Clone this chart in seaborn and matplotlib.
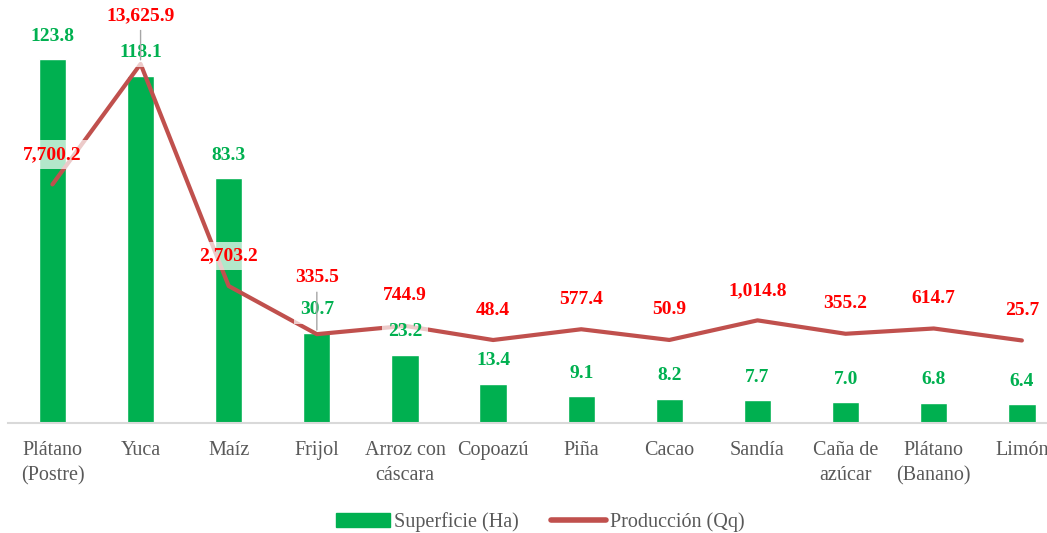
import numpy as np
import pandas as pd
import matplotlib.pyplot as plt
from matplotlib.patches import Patch
from matplotlib.lines import Line2D
import seaborn as sns

cultivos = ["Plátano\n(Postre)", "Yuca", "Maíz", "Frijol", "Arroz con\ncáscara",
            "Copoazú", "Piña", "Cacao", "Sandía", "Caña de\nazúcar",
            "Plátano\n(Banano)", "Limón"]
superficie = [123.8, 118.1, 83.3, 30.7, 23.2, 13.4, 9.1, 8.2, 7.7, 7.0, 6.8, 6.4]
produccion = [7700.2, 13625.9, 2703.2, 335.5, 744.9, 48.4, 577.4, 50.9,
              1014.8, 355.2, 614.7, 25.7]

verde = "#00B050"
rojo_linea = "#C0504D"
gris = "#595959"

sns.set_theme(style="white")
plt.rcParams['font.family'] = ['Liberation Serif', 'DejaVu Serif']

df = pd.DataFrame({"cultivo": cultivos, "superficie": superficie,
                   "produccion": produccion})
df["pos"] = np.arange(len(df))

fig = plt.figure(figsize=(10.47, 5.33), dpi=100)
ax = fig.add_axes([0.008, 0.2064, 1.0101, 0.7749])
sns.barplot(data=df, x="cultivo", y="superficie", color=verde, saturation=1,
            width=0.31, ax=ax)
ax.set_xlim(-0.5, 11.5)
ax.set_ylim(0, 140.5)

ax2 = ax.twinx()
sns.lineplot(data=df, x="pos", y="produccion", ax=ax2, color=rojo_linea,
             lw=3, solid_capstyle="round")
ax2.set_ylim(-4033, 16281)
ax.set_xlim(-0.5, 11.5)

# axes cosmetics
for a in (ax, ax2):
    for s in ["top", "left", "right"]:
        a.spines[s].set_visible(False)
    a.set_yticks([])
    a.set_ylabel("")
    a.set_xlabel("")
ax2.spines["bottom"].set_visible(False)
ax.spines["bottom"].set_color("#D9D9D9")
ax.spines["bottom"].set_linewidth(1.5)
ax.tick_params(axis="x", length=0, pad=13, labelsize=14.5, labelcolor=gris)
plt.setp(ax.get_xticklabels(), linespacing=1.45)

caja = dict(boxstyle="square,pad=0.3", fc="white", ec="none", alpha=0.7)

# data labels - bars
for i, v in enumerate(superficie):
    ax2.annotate(f"{v:,.1f}", xy=(i, v), xycoords=ax.transData,
                 xytext=(0, 23), textcoords="offset pixels", ha="center",
                 va="center", fontsize=14, fontweight="bold", color=verde,
                 bbox=caja, annotation_clip=False, zorder=5)

# data labels - line (two of them were moved up with a leader line)
desplazados = {1: 48, 3: 57}
for i, v in enumerate(produccion):
    dy = desplazados.get(i, 30)
    props = None
    if i in desplazados:
        props = dict(arrowstyle="-", color="#A6A6A6", lw=1, shrinkA=0, shrinkB=3)
    ax2.annotate(f"{v:,.1f}", xy=(i, v), xytext=(0, dy),
                 textcoords="offset pixels", ha="center", va="center",
                 fontsize=14, fontweight="bold", color="#FF0000", bbox=caja,
                 arrowprops=props, annotation_clip=False, zorder=6)

handles = [Patch(color=verde), Line2D([], [], color=rojo_linea, lw=4,
                                      solid_capstyle="round")]
fig.legend(handles, ["Superficie (Ha)", "Producción (Qq)"], loc="center",
           bbox_to_anchor=(0.516, 0.02), ncol=2, frameon=False, fontsize=14.5,
           labelcolor=gris, handlelength=2.7, handletextpad=0.2,
           columnspacing=1.6)

fig.savefig("out.png", dpi=100)
